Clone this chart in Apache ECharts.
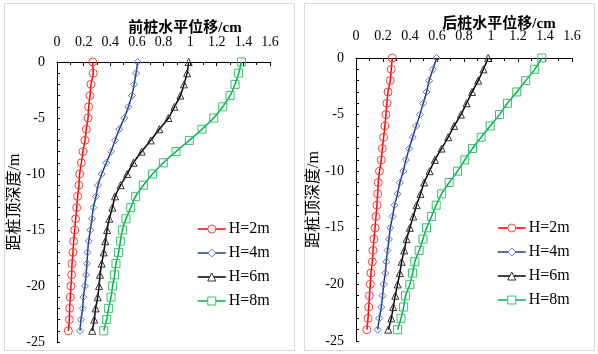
<!DOCTYPE html>
<html>
<head>
<meta charset="utf-8">
<script src="https://cdn.jsdelivr.net/npm/echarts@6/dist/echarts.min.js"></script>
<style>
  html, body { margin: 0; padding: 0; background: #fff; }
  #chart { width: 598px; height: 354px; }
</style>
</head>
<body>
<div id="chart"></div>
<script>
// depth of each measuring point (m), shared by all series
const depth = [0, -1, -2, -3, -4, -5, -6, -7, -8, -9, -10, -11, -12, -13, -14, -15, -16, -17, -18, -19, -20, -21, -22, -23, -24];

const names = ['H=2m', 'H=4m', 'H=6m', 'H=8m'];
const xTicks = [0, 0.2, 0.4, 0.6, 0.8, 1, 1.2, 1.4, 1.6];
const yTicks = [0, -5, -10, -15, -20, -25];

// front pile (前桩) displacement, cm
const front2 = [0.268, 0.272, 0.255, 0.248, 0.238, 0.233, 0.220, 0.210, 0.195, 0.183, 0.170, 0.165, 0.155, 0.148, 0.140, 0.133, 0.125, 0.120, 0.113, 0.110, 0.105, 0.100, 0.095, 0.093, 0.085];
const front4 = [0.606, 0.594, 0.579, 0.563, 0.536, 0.506, 0.468, 0.436, 0.406, 0.371, 0.336, 0.308, 0.293, 0.273, 0.263, 0.250, 0.238, 0.230, 0.225, 0.218, 0.210, 0.198, 0.193, 0.180, 0.173];
const front6 = [0.989, 0.977, 0.954, 0.927, 0.882, 0.837, 0.769, 0.704, 0.636, 0.574, 0.527, 0.478, 0.436, 0.416, 0.393, 0.376, 0.363, 0.351, 0.336, 0.323, 0.316, 0.306, 0.290, 0.280, 0.265];
const front8 = [1.385, 1.365, 1.337, 1.300, 1.245, 1.177, 1.089, 0.994, 0.894, 0.799, 0.718, 0.649, 0.591, 0.554, 0.518, 0.491, 0.476, 0.463, 0.443, 0.433, 0.418, 0.406, 0.388, 0.373, 0.351];

// back pile (后桩) displacement, cm
const back2 = [0.269, 0.261, 0.254, 0.237, 0.229, 0.222, 0.214, 0.205, 0.195, 0.187, 0.174, 0.165, 0.160, 0.155, 0.148, 0.141, 0.133, 0.126, 0.121, 0.111, 0.106, 0.099, 0.094, 0.089, 0.081];
const back4 = [0.597, 0.570, 0.542, 0.523, 0.498, 0.473, 0.446, 0.419, 0.394, 0.370, 0.350, 0.325, 0.308, 0.286, 0.271, 0.254, 0.244, 0.234, 0.224, 0.217, 0.205, 0.197, 0.187, 0.173, 0.160];
const back6 = [0.979, 0.944, 0.905, 0.860, 0.819, 0.777, 0.727, 0.683, 0.634, 0.584, 0.545, 0.505, 0.478, 0.449, 0.424, 0.399, 0.375, 0.357, 0.338, 0.325, 0.308, 0.291, 0.276, 0.261, 0.239];
const back8 = [1.376, 1.324, 1.257, 1.191, 1.122, 1.063, 0.994, 0.927, 0.863, 0.806, 0.752, 0.690, 0.634, 0.594, 0.560, 0.523, 0.496, 0.468, 0.436, 0.419, 0.399, 0.367, 0.353, 0.333, 0.308];

const lineColors = ['#ff0000', '#1f3b8c', '#000000', '#00b050'];
const markColors = ['#ff3b3b', '#5a78bd', '#333333', '#33c466'];
const symbols = ['circle', 'diamond', 'triangle', 'rect'];
const symSizes = [8, 7, 7, 8];

const serif = '"Liberation Serif", "Times New Roman", serif';
const cjk = '"Liberation Serif", "Noto Sans CJK SC", serif';

function pairs(xs) {
  return xs.map((v, i) => [v, depth[i]]);
}

function makeSeries(groups, idx) {
  return groups.map((xs, k) => ({
    name: names[k],
    type: 'line',
    xAxisIndex: idx,
    yAxisIndex: idx,
    data: pairs(xs),
    smooth: 0.3,
    symbol: symbols[k],
    symbolSize: symSizes[k],
    showSymbol: true,
    lineStyle: { color: lineColors[k], width: 1.5 },
    itemStyle: { color: 'rgba(255,255,255,0)', borderColor: markColors[k], borderWidth: 1 },
    emphasis: { disabled: true },
    animation: false,
    z: 2 + k
  }));
}

function xAxisOpt(idx, margin) {
  return {
    gridIndex: idx,
    type: 'value',
    position: 'top',
    min: 0, max: 1.6, interval: 0.2,
    axisLine: { show: true, lineStyle: { color: '#000', width: 1 } },
    axisTick: { show: true, inside: true, length: 4, lineStyle: { color: '#000' } },
    minorTick: { show: true, splitNumber: 2, length: 3, lineStyle: { color: '#000' } },
    axisLabel: {
      margin: margin, color: '#000', fontFamily: serif, fontSize: 14,
      formatter: v => String(+v.toFixed(1))
    },
    splitLine: { show: false }
  };
}

function yAxisOpt(idx) {
  return {
    gridIndex: idx,
    type: 'value',
    min: -25, max: 0, interval: 5,
    name: '距桩顶深度/m',
    nameLocation: 'middle',
    nameRotate: 90,
    nameGap: 34,
    nameTextStyle: { color: '#000', fontFamily: cjk, fontSize: 16 },
    axisLine: { show: true, onZero: false, lineStyle: { color: '#000', width: 1 } },
    axisTick: { show: true, inside: true, length: 3, lineStyle: { color: '#000' } },
    minorTick: { show: true, splitNumber: 5, length: 3, lineStyle: { color: '#000' } },
    axisLabel: { margin: 12, color: '#000', fontFamily: serif, fontSize: 14 },
    splitLine: { show: false }
  };
}

function legendOpt(left, top) {
  return {
    orient: 'vertical',
    left: left, top: top,
    itemWidth: 28, itemHeight: 10, itemGap: 8,
    data: names.map((n, k) => ({
      name: n,
      itemStyle: { color: '#fff', borderColor: markColors[k], borderWidth: 1 },
      lineStyle: { color: lineColors[k], width: 1.5 }
    })),
    textStyle: { color: '#000', fontFamily: serif, fontSize: 16, lineHeight: 16, padding: [0, 0, 0, -2] },
    selectedMode: false
  };
}

const chart = echarts.init(document.getElementById('chart'), null, { renderer: 'canvas' });

const option = {
  backgroundColor: '#fff',
  animation: false,
  graphic: [
    { type: 'rect', shape: { x: 4.5, y: 3.5, width: 290, height: 347 }, style: { fill: 'none', stroke: '#d9d9d9', lineWidth: 1 }, silent: true },
    { type: 'rect', shape: { x: 304.5, y: 3.5, width: 290, height: 347 }, style: { fill: 'none', stroke: '#d9d9d9', lineWidth: 1 }, silent: true }
  ],
  title: [
    { text: '前桩水平位移/cm', left: 180, top: 16, textAlign: 'center',
      textStyle: { color: '#000', fontFamily: cjk, fontSize: 15, fontWeight: 'bold' } },
    { text: '后桩水平位移/cm', left: 494, top: 12, textAlign: 'center',
      textStyle: { color: '#000', fontFamily: cjk, fontSize: 15, fontWeight: 'bold' } }
  ],
  grid: [
    { left: 57, top: 62, width: 213, height: 280 },
    { left: 356, top: 58, width: 216, height: 283 }
  ],
  xAxis: [xAxisOpt(0, 13), xAxisOpt(1, 15)],
  yAxis: [yAxisOpt(0), yAxisOpt(1)],
  legend: [legendOpt(192, 216), legendOpt(492, 215)],
  series: makeSeries([front2, front4, front6, front8], 0)
    .concat(makeSeries([back2, back4, back6, back8], 1))
};

chart.setOption(option);
</script>
</body>
</html>
